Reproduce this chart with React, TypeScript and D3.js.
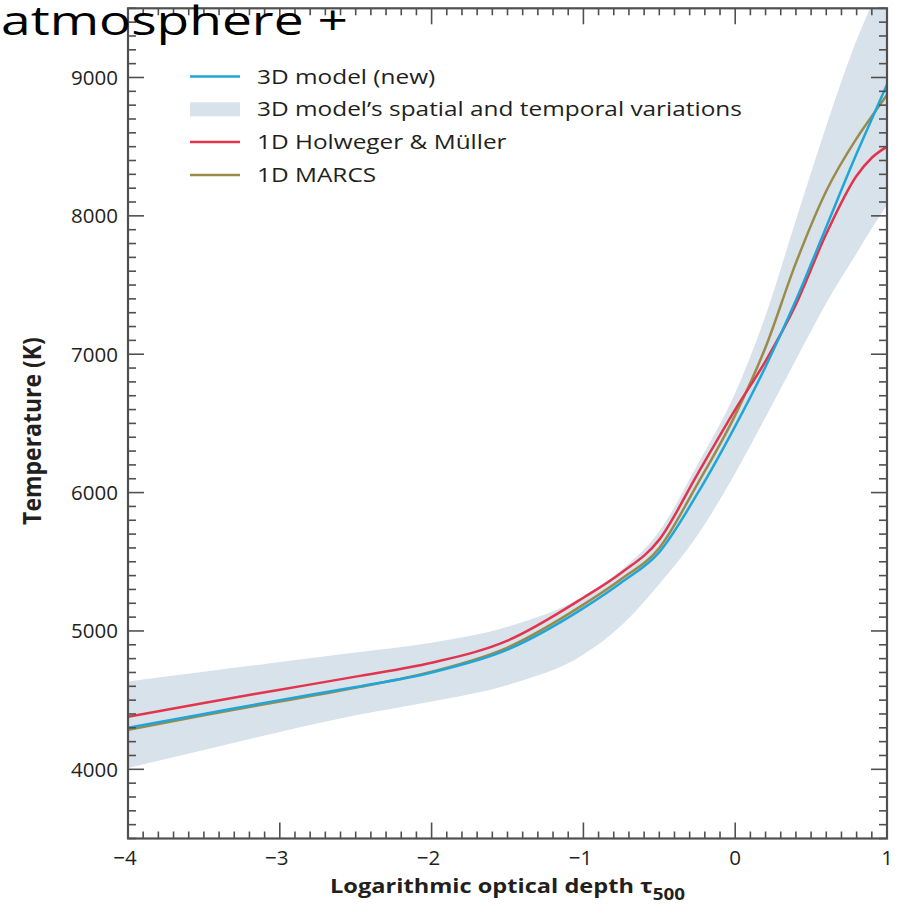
import React from "react";
import * as d3 from "d3";

const depthValues = [-4, -3.5, -3, -2.5, -2, -1.5, -1, -0.75, -0.5, -0.25, 0, 0.2, 0.4, 0.6, 0.8, 0.9, 1];
const model3D = [4300, 4400, 4500, 4595, 4700, 4865, 5165, 5350, 5570, 5990, 6480, 6910, 7390, 7920, 8450, 8700, 8950];
const holwegerMuller = [4380, 4480, 4575, 4670, 4770, 4930, 5240, 5420, 5660, 6130, 6600, 6950, 7360, 7870, 8290, 8420, 8500];
const marcs = [4285, 4390, 4490, 4590, 4705, 4880, 5190, 5375, 5600, 6060, 6560, 7050, 7660, 8180, 8560, 8720, 8875];
const bandUpper = [4635, 4705, 4775, 4845, 4915, 5030, 5250, 5440, 5720, 6200, 6720, 7280, 7970, 8650, 9270, 9530, 9780];
const bandLower = [4010, 4140, 4270, 4390, 4490, 4610, 4830, 5040, 5340, 5690, 6140, 6545, 6960, 7370, 7730, 7910, 8080];

const xTickValues = [-4, -3, -2, -1, 0, 1];
const yTickValues = [4000, 5000, 6000, 7000, 8000, 9000];
const legendLabels = [
  "3D model (new)",
  "3D model\u2019s spatial and temporal variations",
  "1D Holweger & M\u00fcller",
  "1D MARCS",
];

const COLORS = {
  blue: "#1fa6d9",
  red: "#e2344c",
  olive: "#9b8b4b",
  band: "#d8e2eb",
  frame: "#505050",
  text: "#231f20",
};

export default function App() {
  const W = 899;
  const H = 916;
  const left = 128, right = 887, top = 8.3, bottom = 838.5;
  const x = d3.scaleLinear().domain([-4, 1]).range([left, right]);
  const y = d3.scaleLinear().domain([3500, 9500]).range([bottom, top]);

  const line = (vals: number[]) =>
    d3
      .line<number>()
      .x((_, i) => x(depthValues[i]))
      .y((d) => y(d))
      .curve(d3.curveMonotoneX)(vals) || "";

  const area =
    d3
      .area<number>()
      .x((_, i) => x(depthValues[i]))
      .y0((_, i) => y(bandLower[i]))
      .y1((_, i) => y(bandUpper[i]))
      .curve(d3.curveMonotoneX)(bandUpper) || "";

  const xMinor = d3.range(-40, 11).map((v) => v / 10);
  const yMinor = d3.range(35, 96).map((v) => v * 100);

  const font = "'Open Sans', 'DejaVu Sans', sans-serif";
  const legendY = (i: number) => 76.5 + i * 32.8;
  const stretch = 1.22;

  return (
    <svg width={W} height={H} style={{ position: "absolute", left: 0, top: 0 }} fontFamily={font}>
      <defs>
        <clipPath id="plotClip">
          <rect x={left} y={top} width={right - left} height={bottom - top} />
        </clipPath>
      </defs>
      <rect x={0} y={0} width={W} height={H} fill="#fff" />
      <g clipPath="url(#plotClip)">
        <path d={area} fill={COLORS.band} />
        <path d={line(marcs)} fill="none" stroke={COLORS.olive} strokeWidth={2.5} />
        <path d={line(holwegerMuller)} fill="none" stroke={COLORS.red} strokeWidth={2.5} />
        <path d={line(model3D)} fill="none" stroke={COLORS.blue} strokeWidth={2.5} />
      </g>

      {/* ticks */}
      <g stroke={COLORS.frame} strokeWidth={1.6}>
        {xMinor.map((v, i) => {
          const major = Math.abs(v - Math.round(v)) < 1e-6;
          const len = major ? 16 : 7;
          return (
            <g key={"xt" + i}>
              <line x1={x(v)} x2={x(v)} y1={bottom} y2={bottom - len} />
              <line x1={x(v)} x2={x(v)} y1={top} y2={top + len} />
            </g>
          );
        })}
        {yMinor.map((v, i) => {
          const major = v % 1000 === 0;
          const len = major ? 16 : 8;
          return (
            <g key={"yt" + i}>
              <line x1={left} x2={left + len} y1={y(v)} y2={y(v)} />
              <line x1={right} x2={right - len} y1={y(v)} y2={y(v)} />
            </g>
          );
        })}
      </g>
      <rect x={left} y={top} width={right - left} height={bottom - top} fill="none" stroke={COLORS.frame} strokeWidth={2.2} />

      {/* tick labels */}
      <g fill={COLORS.text} fontSize={20.5}>
        {yTickValues.map((v) => (
          <text key={"yl" + v} x={118} y={y(v)} dy="0.36em" textAnchor="end">
            {v}
          </text>
        ))}
        {xTickValues.map((v) => (
          <text key={"xl" + v} x={x(v) + (v < 0 ? -3 : 0)} y={864.5} textAnchor="middle">
            {v < 0 ? "\u2212" + Math.abs(v) : String(v)}
          </text>
        ))}
      </g>

      {/* axis titles */}
      <g transform={`translate(330, 893) scale(1.18, 1)`}>
        <text x={0} y={0} fontSize={20} fontWeight="bold" fill={COLORS.text}>
          Logarithmic optical depth {"\u03c4"}
          <tspan fontSize={16} dy={7}>500</tspan>
        </text>
      </g>
      <g transform={`translate(41, 431) scale(1.1, 1) rotate(-90)`}>
        <text x={0} y={0} textAnchor="middle" fontSize={23} fontWeight="bold" fill={COLORS.text}>
          Temperature (K)
        </text>
      </g>

      {/* legend */}
      <line x1={190} x2={240} y1={legendY(0)} y2={legendY(0)} stroke={COLORS.blue} strokeWidth={2.5} />
      <rect x={190} y={legendY(1) - 7} width={50} height={14} fill={COLORS.band} />
      <line x1={190} x2={240} y1={legendY(2)} y2={legendY(2)} stroke={COLORS.red} strokeWidth={2.5} />
      <line x1={190} x2={240} y1={legendY(3)} y2={legendY(3)} stroke={COLORS.olive} strokeWidth={2.5} />
      <g transform={`translate(257, 0) scale(${stretch}, 1)`} fontSize={20} fill={COLORS.text}>
        {legendLabels.map((t, i) => (
          <text key={t} x={0} y={legendY(i)} dy="0.36em">
            {t}
          </text>
        ))}
      </g>

      {/* overlapping slide title fragment */}
      <text
        x={1}
        y={35}
        fontSize={41}
        fontFamily="'Open Sans', sans-serif"
        fill="#000"
        textLength={347}
        lengthAdjust="spacingAndGlyphs"
      >
        atmosphere +
      </text>
    </svg>
  );
}
